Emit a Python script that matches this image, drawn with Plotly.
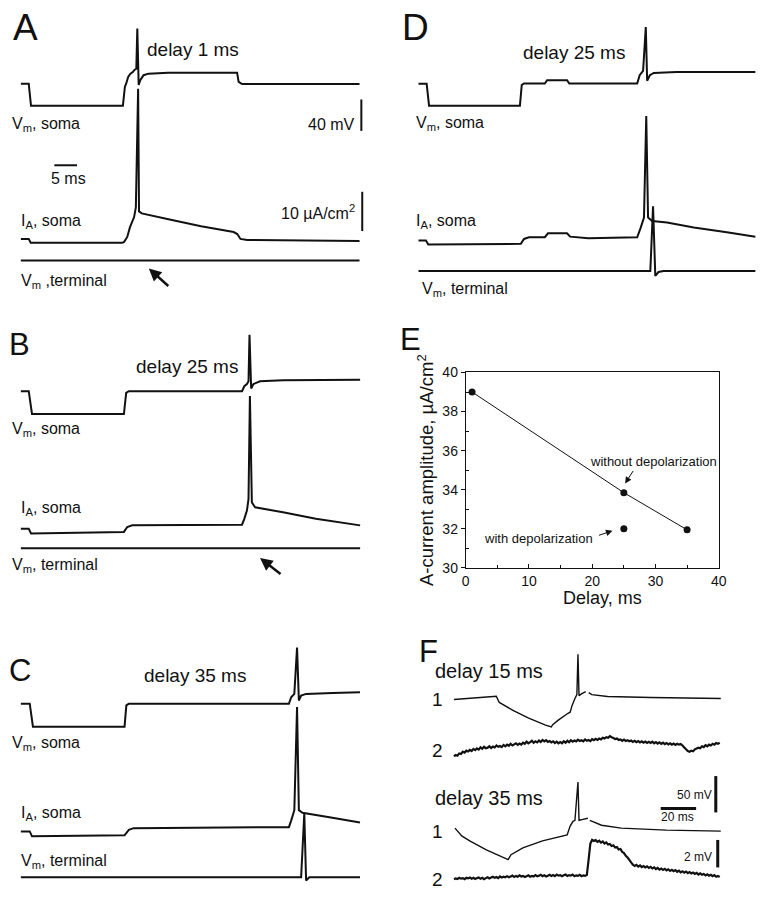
import plotly.graph_objects as go

W, H = 771, 899          # browser window
PAD = 8                  # default body margin of the html page
FW, FH = W - PAD, H - PAD
FONT = "Liberation Sans, Arial, Helvetica, sans-serif"
INK = "#111111"

# ---------------- data (time in ms, Vm in mV, I_A in uA/cm2) ----------------
# Panel A, delay 1 ms
A_vm_t = [0, 1.74, 2.24, 22.54, 22.98, 23.26, 23.7, 24.2, 24.72, 25.15, 25.5, 25.72, 26.02, 26.37, 27.1, 28.2, 32.5, 47.76, 48.1, 48.85, 74.8]
A_vm_v = [-65, -65, -92.9, -92.9, -68.75, -65, -56.25, -52.1, -50, -47.1, -45.9, 5.4, -66.6, -60.4, -54.1, -52.1, -50.9, -50.9, -62.5, -65.4, -65.4]
A_ia_t = [0, 1.74, 2.17, 22.4, 22.8, 23.5, 24.1, 25.0, 25.4, 25.9, 26.1, 26.7, 32.6, 39.8, 47.0, 47.8, 48.5, 50.0, 74.8]
A_ia_v = [1.0, 1.0, 0, 0, 0.25, 1.5, 4.0, 6.5, 9.0, 39.25, 8.0, 7.5, 6.0, 4.25, 2.75, 2.25, 1.0, 0.75, 0.5]
A_term_t = [0, 74.8]
A_term_v = [-65, -65]

# Panel B, delay 25 ms
B_vm_t = [0, 1.74, 2.46, 22.76, 23.26, 23.85, 48.85, 49.35, 49.93, 50.28, 50.5, 50.87, 51.37, 52.83, 57.9, 74.93]
B_vm_v = [-65, -65, -94.1, -94.1, -67.1, -65, -65, -58.75, -55.9, -52.5, 6.6, -61.6, -55.9, -52.5, -51.25, -50.4]
B_ia_t = [0, 1.74, 2.24, 22.76, 23.5, 24.6, 48.85, 49.35, 49.93, 50.28, 50.59, 51.02, 51.74, 57.9, 65.15, 74.93]
B_ia_v = [1.25, 1.25, 0, 0.42, 1.67, 2.08, 2.25, 3.75, 5.83, 8.75, 35.0, 7.92, 6.67, 5.42, 3.75, 2.08]
B_term_t = [0, 74.93]
B_term_v = [-65, -65]

# Panel C, delay 35 ms
C_vm_t = [0, 1.96, 2.67, 22.9, 23.3, 23.85, 59.2, 59.7, 60.4, 61.0, 61.4, 61.9, 63.0, 68.8, 74.9]
C_vm_v = [-65, -65, -94.25, -94.25, -67.1, -65, -65, -56.75, -52.5, 6.6, -60.9, -54.6, -52.5, -51.25, -50.5]
C_ia_t = [0, 1.96, 2.46, 22.9, 23.85, 24.9, 59.2, 59.7, 60.4, 61.0, 61.4, 62.2, 68.8, 74.9]
C_ia_v = [1.25, 1.25, 0, 0.25, 1.65, 2.08, 2.33, 4.0, 6.65, 32.9, 6.65, 6.0, 4.75, 3.5]
C_term_t = [0, 61.9, 62.6, 63.0, 63.7, 74.9]
C_term_v = [-65, -65, 16.25, -69.1, -65, -65]

# Panel D, delay 25 ms with depolarization
D_vm_t = [0, 1.8, 2.33, 22.4, 22.8, 23.3, 27.9, 28.4, 32.8, 33.3, 48.3, 48.85, 49.6, 50.2, 50.5, 51.1, 51.96, 57.0, 74.4]
D_vm_v = [-65, -65, -92.9, -92.9, -66.6, -64.6, -64.6, -60.4, -60.4, -64.6, -64.6, -54.1, -48.75, 7.1, -61.25, -54.1, -51.25, -50, -50]
D_ia_t = [0, 1.64, 2.16, 22.6, 23.3, 24.4, 27.9, 28.6, 32.8, 33.5, 37.5, 48.3, 49.1, 49.8, 50.3, 50.7, 51.6, 54.9, 60.8, 68.1, 74.4]
D_ia_v = [1.0, 1.0, 0, 0.17, 1.42, 1.85, 1.85, 2.85, 2.85, 2.0, 1.6, 1.85, 4.35, 6.85, 32.7, 6.85, 6.0, 5.6, 4.35, 3.1, 2.0]
D_term_t = [0, 51.2, 51.8, 52.3, 53.0, 54.1, 74.4]
D_term_v = [-65, -65, 17.5, -71.25, -66.25, -65, -65]

# Panel E
E_delay_line = [1, 25, 35]
E_amp_line = [39.0, 33.85, 31.95]
E_delay_dep = [25]
E_amp_dep = [32.0]

# Panel F, recordings (trace 1: soma Vm, trace 2: terminal Vm)
F15_v1_t = [0, 23.9, 25.6, 33.3, 42.2, 51.7, 55.0, 55.6, 58.9, 64.4, 65.6, 66.7, 68.3, 69.4, 70.0, 70.6, 72.2, 74.4, None, 76.1, 77.8, 86.7, 111.1, 150.6]
F15_v1_v = [-66.4, -61.9, -70.4, -81.2, -92.0, -101.5, -104.2, -101.5, -94.7, -85.3, -83.9, -74.5, -65, -59.6, -4.2, -61, -58.2, -55.5, None, -56.9, -59.6, -62.3, -63.6, -65]
F15_v2_t = list(range(0, 151))
F15_v2_v = [0.00, 0.10, 0.05, 0.22, 0.18, 0.35, 0.28, 0.42, 0.36, 0.48,
            0.40, 0.55, 0.46, 0.58, 0.50, 0.66, 0.56, 0.70, 0.60, 0.64,
            0.74, 0.62, 0.72, 0.66, 0.80, 0.70, 0.76, 0.68, 0.84, 0.74,
            0.86, 0.78, 0.92, 0.80, 0.88, 0.96, 0.84, 0.94, 0.86, 1.00,
            0.92, 1.08, 0.96, 1.04, 1.14, 1.00, 1.10, 1.02, 1.16, 1.06,
            1.20, 1.10, 1.18, 1.06, 1.12, 1.02, 1.10, 0.98, 1.08, 0.96,
            1.04, 0.96, 1.10, 1.00, 1.14, 1.04, 1.18, 1.08, 1.16, 1.10,
            1.22, 1.12, 1.18, 1.10, 1.24, 1.14, 1.20, 1.12, 1.26, 1.18,
            1.28, 1.20, 1.30, 1.24, 1.36, 1.30, 1.40, 1.36, 1.48, 1.40,
            1.34, 1.26, 1.30, 1.20, 1.24, 1.14, 1.22, 1.12, 1.18, 1.10,
            1.16, 1.06, 1.14, 1.04, 1.12, 1.02, 1.10, 1.00, 1.08, 0.98,
            1.06, 0.98, 1.08, 0.96, 1.04, 0.94, 1.02, 0.92, 1.00, 0.90,
            0.98, 0.88, 0.96, 0.86, 0.94, 0.84, 0.92, 0.86, 0.90, 0.80,
            0.66, 0.52, 0.40, 0.34, 0.42, 0.38, 0.52, 0.58, 0.64, 0.60,
            0.74, 0.68, 0.82, 0.74, 0.86, 0.80, 0.92, 0.86, 0.98, 0.92,
            1.00]
F35_v1_t = [0.6, 4.4, 8.9, 18.3, 30.6, 32.2, 38.9, 50.0, 63.9, 65.6, 67.2, 68.3, 70.0, 70.6, 72.8, 75.6, None, 76.7, 83.3, 94.4, 120.0, 150.6]
F35_v1_v = [-60.9, -71.7, -78.5, -90.7, -104.2, -97.4, -88.0, -78.5, -70.4, -58.2, -51.5, -50.1, 2.6, -50.1, -48.8, -47.4, None, -50.1, -56.9, -60.9, -63.6, -65]
F35_v2_t = list(range(0, 151))
F35_v2_v = [0.00, 0.06, 0.02, 0.10, 0.04, 0.08, 0.00, 0.10, 0.06, 0.12,
            0.04, 0.10, 0.02, 0.08, 0.12, 0.04, 0.10, 0.00, 0.08, 0.14,
            0.06, 0.12, 0.18, 0.10, 0.16, 0.08, 0.20, 0.12, 0.18, 0.14,
            0.22, 0.14, 0.20, 0.26, 0.16, 0.24, 0.18, 0.28, 0.20, 0.24,
            0.16, 0.22, 0.28, 0.18, 0.24, 0.20, 0.30, 0.22, 0.26, 0.32,
            0.22, 0.28, 0.20, 0.26, 0.32, 0.24, 0.30, 0.22, 0.34, 0.26,
            0.30, 0.22, 0.28, 0.34, 0.24, 0.30, 0.26, 0.34, 0.22, 0.28,
            0.24, 0.32, 0.22, 0.28, 0.24, 0.30, 1.40, 2.60, 2.86, 2.78,
            2.84, 2.72, 2.80, 2.66, 2.74, 2.60, 2.68, 2.52, 2.56, 2.42,
            2.46, 2.30, 2.34, 2.16, 2.20, 1.98, 1.90, 1.70, 1.58, 1.40,
            1.22, 1.06, 0.96, 1.04, 0.92, 1.00, 0.88, 0.96, 0.86, 0.94,
            0.82, 0.90, 0.78, 0.86, 0.74, 0.82, 0.70, 0.78, 0.68, 0.76,
            0.64, 0.72, 0.60, 0.68, 0.58, 0.66, 0.54, 0.62, 0.50, 0.58,
            0.48, 0.56, 0.44, 0.52, 0.42, 0.48, 0.38, 0.46, 0.34, 0.42,
            0.32, 0.38, 0.28, 0.36, 0.26, 0.32, 0.22, 0.30, 0.18, 0.24,
            0.16]

# scale bars
SB_A_MV, SB_A_MS, SB_A_IA = 40, 5, 10
SB_F_MV, SB_F_MS, SB_F_MV2 = 50, 20, 2

# ---------------- layout geometry (window-pixel placement of each trace) ----------------
# (x px of t=0, px per ms, y px of reference value, px per unit, reference value)
G = {
    "A_vm": (17, 4.6, 77, 0.8, -65), "A_ia": (17, 4.6, 239, 4.0, 0), "A_term": (17, 4.6, 257, 0.8, -65),
    "B_vm": (17, 4.6, 390, 0.8, -65), "B_ia": (17, 4.6, 535, 4.0, 0), "B_term": (17, 4.6, 550, 0.8, -65),
    "C_vm": (17, 4.6, 708.3, 0.8, -65), "C_ia": (17, 4.6, 843.3, 4.0, 0), "C_term": (17, 4.6, 885, 0.8, -65),
    "D_vm": (421, 4.6, 77, 0.8, -65), "D_ia": (421, 4.6, 240.7, 4.0, 0), "D_term": (421, 4.6, 267.7, 0.8, -65),
    "F15_1": (457, 1.8, 703, 0.74, -65), "F15_2": (457, 1.8, 762, 14.0, 0),
    "F35_1": (457, 1.8, 838, 0.74, -65), "F35_2": (457, 1.8, 887, 14.0, 0),
}


def px(x):
    return (x - PAD) / FW


def py(y):
    return 1 - (y - PAD) / FH


fig = go.Figure()
lay = {}
AX = {}
count = [0]


def axes_for(key):
    count[0] += 1
    i = count[0]
    s = "" if i == 1 else str(i)
    x0, sx, yb, sy, vb = G[key]
    lay["xaxis" + s] = dict(domain=[0, 1], range=[(PAD - x0) / sx, (W - x0) / sx], visible=False,
                            anchor="y" + s, fixedrange=True)
    lay["yaxis" + s] = dict(domain=[0, 1], range=[vb + (yb - H) / sy, vb + (yb - PAD) / sy], visible=False,
                            anchor="x" + s, fixedrange=True)
    AX[key] = ("x" + s, "y" + s)
    return AX[key]


def trace(key, t, v, width=2.0):
    xa, ya = axes_for(key)
    fig.add_trace(go.Scatter(x=t, y=v, mode="lines", xaxis=xa, yaxis=ya, hoverinfo="skip",
                             showlegend=False, connectgaps=False,
                             line=dict(color=INK, width=width, simplify=False)))


trace("A_vm", A_vm_t, A_vm_v); trace("A_ia", A_ia_t, A_ia_v); trace("A_term", A_term_t, A_term_v)
trace("B_vm", B_vm_t, B_vm_v); trace("B_ia", B_ia_t, B_ia_v); trace("B_term", B_term_t, B_term_v)
trace("C_vm", C_vm_t, C_vm_v); trace("C_ia", C_ia_t, C_ia_v); trace("C_term", C_term_t, C_term_v)
trace("D_vm", D_vm_t, D_vm_v); trace("D_ia", D_ia_t, D_ia_v); trace("D_term", D_term_t, D_term_v)
trace("F15_1", F15_v1_t, F15_v1_v, 1.4); trace("F15_2", F15_v2_t, F15_v2_v, 2.2)
trace("F35_1", F35_v1_t, F35_v1_v, 1.4); trace("F35_2", F35_v2_t, F35_v2_v, 2.2)

# ---------------- panel E (real axes) ----------------
count[0] += 1
e = str(count[0])
lay["xaxis" + e] = dict(domain=[px(469), px(726)], range=[0, 40], anchor="y" + e, tickvals=[0, 10, 20, 30, 40],
                        ticks="inside", ticklen=4, tickwidth=1, tickcolor=INK, showline=True, linecolor=INK,
                        linewidth=1, mirror=True, showgrid=False, zeroline=False, fixedrange=True,
                        minor=dict(tickvals=[5, 15, 25, 35], ticks="inside", ticklen=3, tickcolor=INK),
                        tickfont=dict(family=FONT, size=14, color=INK))
lay["yaxis" + e] = dict(domain=[py(570), py(371)], range=[30, 40], anchor="x" + e,
                        tickvals=[30, 32, 34, 36, 38, 40], ticks="outside", ticklen=4, tickwidth=1, tickcolor=INK,
                        showline=True, linecolor=INK, linewidth=1, mirror=True, showgrid=False, zeroline=False,
                        fixedrange=True,
                        minor=dict(tickvals=[31, 33, 35, 37, 39], ticks="inside", ticklen=3, tickcolor=INK),
                        tickfont=dict(family=FONT, size=14, color=INK))
fig.add_trace(go.Scatter(x=E_delay_line, y=E_amp_line, mode="lines+markers", xaxis="x" + e, yaxis="y" + e,
                         line=dict(color=INK, width=1), marker=dict(color=INK, size=7), showlegend=False,
                         hoverinfo="skip"))
fig.add_trace(go.Scatter(x=E_delay_dep, y=E_amp_dep, mode="markers", xaxis="x" + e, yaxis="y" + e,
                         marker=dict(color=INK, size=7), showlegend=False, hoverinfo="skip"))


def label(text, x, y, size, xanchor="left", angle=0):
    fig.add_annotation(text=text, x=px(x), y=py(y), xref="paper", yref="paper", showarrow=False,
                       xanchor=xanchor, yanchor="middle", textangle=angle, borderpad=0,
                       font=dict(family=FONT, size=size, color=INK))


def arrow(x, y, ax, ay, width, size, xref="paper", yref="paper"):
    fig.add_annotation(text="", x=x, y=y, xref=xref, yref=yref, ax=ax, ay=ay, showarrow=True,
                       arrowhead=2, arrowsize=size, arrowwidth=width, arrowcolor=INK)


# panel letters
label("A", 8, 20, 37); label("D", 403, 20, 37)
label("B", 4, 343, 31); label("C", 4, 674, 31)
label("E", 401, 337, 31); label("F", 420, 655, 31)

# delay titles
label("delay 1 ms", 192, 42, 19, "center")
label("delay 25 ms", 579, 45, 19, "center")
label("delay 25 ms", 186, 365, 19, "center")
label("delay 35 ms", 194, 680, 19, "center")
label("delay 15 ms", 493, 675, 20, "center")
label("delay 35 ms", 493, 804, 20, "center")

# trace names
VM_SOMA = "V<sub>m</sub>, soma"
IA_SOMA = "I<sub>A</sub>, soma"
label(VM_SOMA, 7, 118, 16); label(IA_SOMA, 16, 217, 16); label("V<sub>m</sub> ,terminal", 16, 278, 16)
label(VM_SOMA, 7, 429, 16); label(IA_SOMA, 16, 510, 16); label("V<sub>m</sub>, terminal", 7, 568, 16)
label(VM_SOMA, 7, 749, 16); label(IA_SOMA, 16, 820, 16); label("V<sub>m</sub>, terminal", 16, 869, 16)
label(VM_SOMA, 417, 117, 16); label(IA_SOMA, 417, 217, 16); label("V<sub>m</sub>, terminal", 424, 287, 16)
label("1", 440, 704, 19, "center"); label("2", 440, 756, 19, "center")
label("1", 440, 838, 19, "center"); label("2", 440, 887, 19, "center")

# scale bars
shapes = []


def bar(key, t0, v0, t1, v1, width):
    xa, ya = AX[key]
    shapes.append(dict(type="line", xref=xa, yref=ya, x0=t0, y0=v0, x1=t1, y1=v1,
                       line=dict(color=INK, width=width)))


bar("A_vm", 75.2, -125, 75.2, -125 + SB_A_MV, 2)
bar("A_vm", 7.4, -168.75, 7.4 + SB_A_MS, -168.75, 2)
bar("A_ia", 75.4, 3, 75.4, 3 + SB_A_IA, 2)
bar("F35_1", 147.8, -39.3, 147.8, -39.3 + SB_F_MV, 3)
bar("F35_1", 116.7, -33.9, 116.7 + SB_F_MS, -33.9, 3)
bar("F35_2", 148.9, 0.857, 148.9, 0.857 + SB_F_MV2, 3)
label(f"{SB_A_MV} mV", 358, 118, 16, "right")
label(f"{SB_A_MS} ms", 65, 173, 16, "center")
label(f"{SB_A_IA} µA/cm<sup>2</sup>", 358, 208, 16, "right")
label(f"{SB_F_MV} mV", 720, 801, 12, "right")
label(f"{SB_F_MS} ms", 684, 824, 12, "center")
label(f"{SB_F_MV2} mV", 720, 864, 12, "right")

# arrows in A and B
arrow(px(147), py(265), 21, 19, 2.5, 1.0)
arrow(px(260), py(560), 22, 17, 2.5, 1.0)

# panel E texts
label("A-current amplitude, µA/cm<sup>2</sup>", 428, 470, 18.5, "center", -90)
label("Delay, ms", 608, 601, 18, "center")
label("without depolarization", 660, 462, 13, "center")
label("with depolarization", 543, 540, 13, "center")
arrow(25.2, 34.32, 9, -14, 1, 1.3, "x" + e, "y" + e)
arrow(23.2, 31.9, -15, 5, 1, 1.3, "x" + e, "y" + e)

fig.update_layout(width=FW, height=FH, margin=dict(l=0, r=0, t=0, b=0), paper_bgcolor="white",
                  plot_bgcolor="rgba(0,0,0,0)", showlegend=False, shapes=shapes, **lay)
fig.write_html("out.html")
